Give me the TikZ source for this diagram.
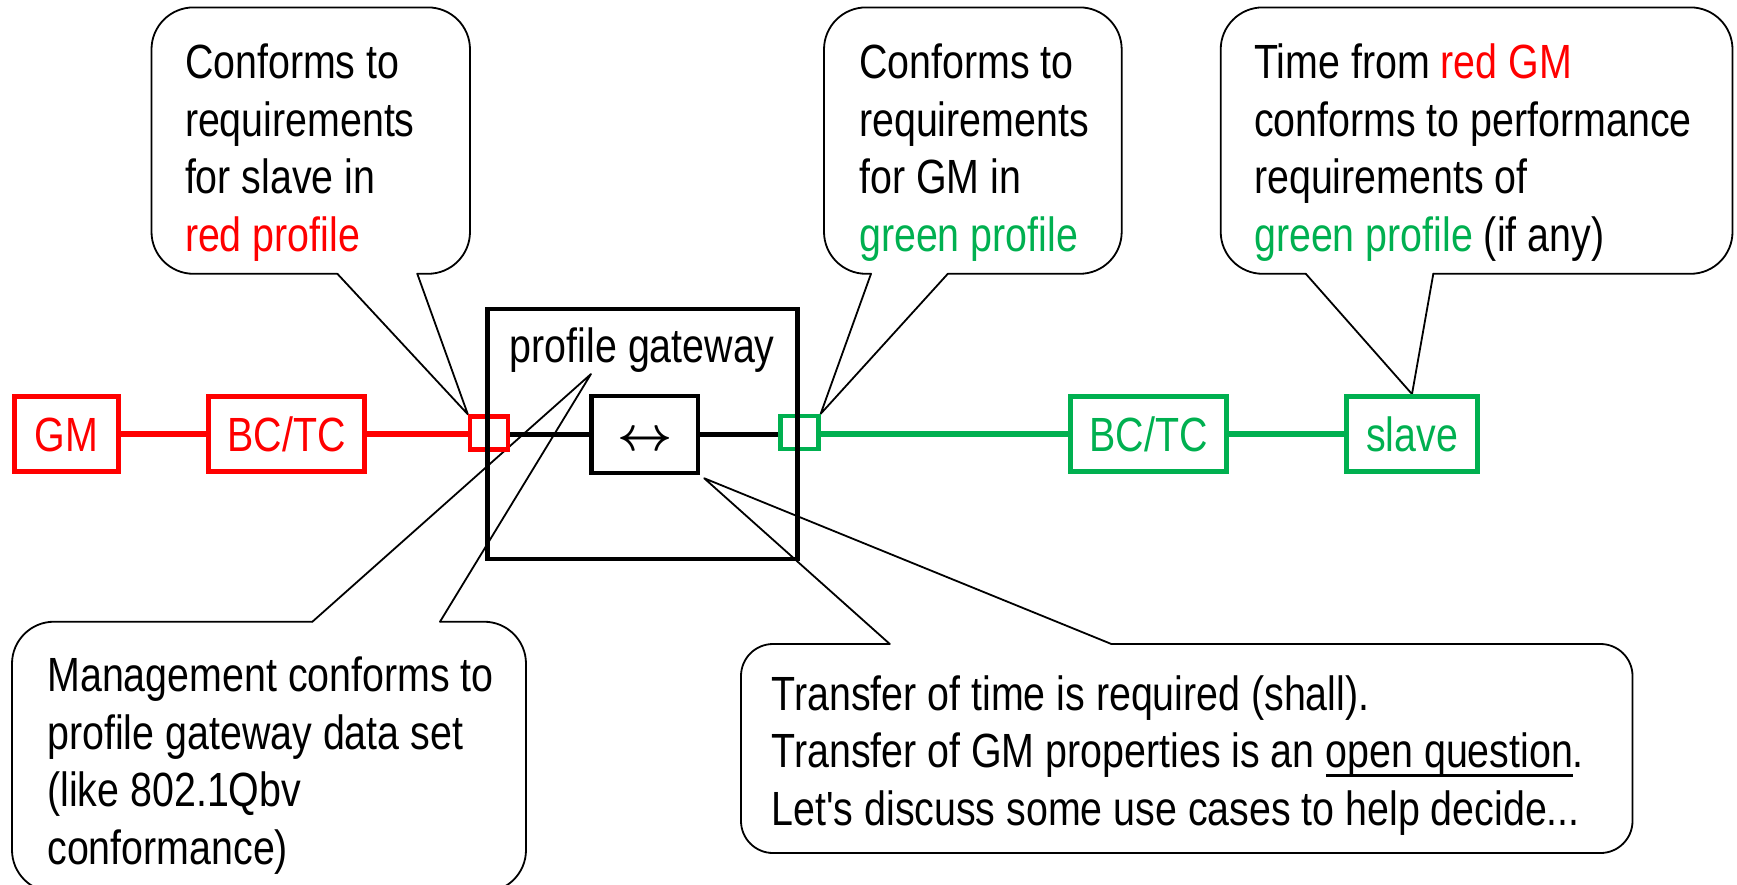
\documentclass[tikz,border=0pt]{standalone}
\usepackage{fontspec}
\setmainfont{Liberation Sans}[FakeStretch=0.82,Ligatures=TeXOff]
\usepackage{graphicx}
\usetikzlibrary{calc,backgrounds}
\definecolor{pred}{RGB}{255,0,0}
\definecolor{pgreen}{RGB}{0,176,80}
\newcommand\myul[1]{\setbox0\hbox{#1}\rlap{\rule[-9pt]{\wd0}{2.2pt}}\box0}
\begin{document}
\begin{tikzpicture}[x=1pt,y=-1pt,
  every node/.style={inner sep=0pt,font=\fontsize{48}{57.6}\selectfont},
  elbox/.style={draw,line width=4.8pt,minimum height=75pt,text height=34.4pt,text depth=0pt},
  redbox/.style={elbox,draw=pred,text=pred},
  greenbox/.style={elbox,draw=pgreen,text=pgreen},
  port/.style={draw,line width=4.3pt,minimum width=38pt,minimum height=33pt},
  wire/.style={line width=5.2pt},
  callout/.style={line width=1.8pt,line join=round,line cap=round},
  ctext/.style={anchor=base west}]
\useasboundingbox (0,0) rectangle (1737,884);

% elements
\node[redbox,minimum width=104pt] (gm) at (66.6,434) {GM};
\node[redbox,minimum width=156.5pt] (rbc) at (286.5,434) {BC/TC};
\node[port,draw=pred] (rsq) at (489,433) {};
\node[port,draw=pgreen] (gsq) at (799.5,432.5) {};
\node[draw,line width=4.8pt,minimum width=310pt,minimum height=250pt] (gw) at (642.8,434) {};
\node[anchor=base] (pgw) at (642.3,362.6) {profile gateway};
\node[draw,line width=4.5pt,minimum width=106.5pt,minimum height=77pt] (inner) at (644.7,434.5) {};
\node[font=\fontsize{10}{12}\selectfont] (arr) at (644.7,441) {\scalebox{4.8}{\boldmath$\leftrightarrow$}};
\node[greenbox,minimum width=156.5pt] (gbc) at (1148.5,434) {BC/TC};
\node[greenbox,minimum width=131.5pt] (slave) at (1412,434) {slave};

\draw[wire,draw=pred] (gm.east) -- (rbc.west);
\draw[wire,draw=pred] (rbc.east) -- (rsq.west |- rbc.east);
\draw[wire] (rsq.east |- inner.west) -- (inner.west);
\draw[wire] (inner.east) -- (gsq.west |- inner.east);
\draw[wire,draw=pgreen] (gsq.east |- gbc.west) -- (gbc.west);
\draw[wire,draw=pgreen] (gbc.east) -- (slave.west);

\coordinate (pgtip) at (591,374);
\coordinate (innertip) at ($(inner.south east)+(4,3)$);

% callout texts
\node[ctext] (ta) at (184.8,78.4) {\begin{tabular}[t]{@{}l@{}}Conforms to\\requirements\\for slave in\\{\color{pred}red profile}\end{tabular}};
\node[ctext] (tb) at (859,78.4) {\begin{tabular}[t]{@{}l@{}}Conforms to\\requirements\\for GM in\\{\color{pgreen}green profile}\end{tabular}};
\node[ctext] (tc) at (1254,78.4) {\begin{tabular}[t]{@{}l@{}}Time from {\color{pred}red GM}\\conforms to performance\\requirements of\\{\color{pgreen}green profile} (if any)\end{tabular}};
\node[ctext] (td) at (47.2,691.7) {\begin{tabular}[t]{@{}l@{}}Management conforms to\\profile gateway data set\\(like 802.1Qbv\\conformance)\end{tabular}};
\node[ctext] (te) at (771.4,710) {\begin{tabular}[t]{@{}l@{}}Transfer of time is required (shall).\\Transfer of GM properties is an \myul{open question}.\\Let's discuss some use cases to help decide...\end{tabular}};

% callout outlines
\begin{scope}[on background layer]
\draw[callout,rounded corners=42pt] (417.3,273.8) -- (470,273.8) -- (470,7.4) -- (151.5,7.4) -- (151.5,273.8) -- (337.4,273.8);
\draw[callout] (337.4,273.8) -- (rsq.north west) -- (417.3,273.8);

\draw[callout,rounded corners=42pt] (947.8,273.8) -- (1121.7,273.8) -- (1121.7,7.4) -- (824,7.4) -- (824,273.8) -- (871,273.8);
\draw[callout] (871,273.8) -- (gsq.north east) -- (947.8,273.8);

\draw[callout,rounded corners=42pt] (1433.3,273.8) -- (1732.5,273.8) -- (1732.5,7.4) -- (1220.7,7.4) -- (1220.7,273.8) -- (1305.8,273.8);
\draw[callout] (1305.8,273.8) -- (slave.north) -- (1433.3,273.8);

\draw[callout,rounded corners=42pt] (440,621.7) -- (526,621.7) -- (526,892) -- (12,892) -- (12,621.7) -- (312.4,621.7);
\draw[callout] (312.4,621.7) -- (pgtip) -- (440,621.7);

\draw[callout,rounded corners=32pt] (1111.4,644) -- (1632.5,644) -- (1632.5,853) -- (741,853) -- (741,644) -- (889.8,644);
\draw[callout] (889.8,644) -- (innertip) -- (1111.4,644);
\end{scope}
\end{tikzpicture}
\end{document}
